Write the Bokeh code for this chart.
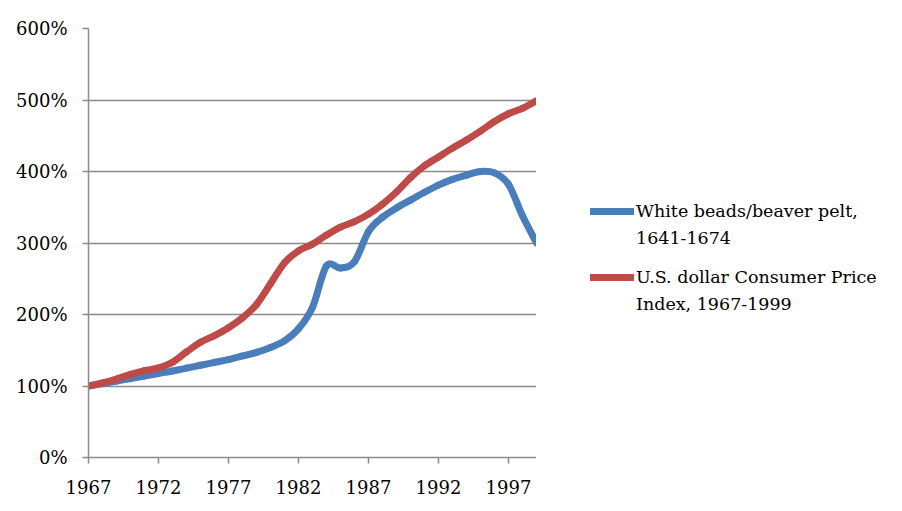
from bokeh.plotting import figure
from bokeh.layouts import row
from bokeh.models import (Range1d, FixedTicker, PrintfTickFormatter, Legend, LegendItem)
from bokeh.embed import file_html
from bokeh.resources import INLINE

years = list(range(1967, 2000))
beads = [100, 103.5, 107, 110.5, 114, 117.5, 121, 125, 129, 133, 137, 142, 147, 154,
         163, 180, 210, 268, 265, 274, 316, 336, 349, 360, 371, 381, 389, 395, 400,
         398, 382, 338, 300]
cpi = [100, 104.2, 109.8, 116.3, 121.3, 125.3, 133.1, 147.7, 161.2, 170.5, 181.5,
       195.4, 214, 243, 272.4, 289.1, 298.4, 311.1, 322.2, 330, 340.4, 354.3, 371.3,
       391.4, 408.0, 420.3, 432.7, 444.0, 456.5, 469.9, 480.8, 488.3, 499.0]
beads_label = ["White beads/beaver pelt,", "1641-1674"]
cpi_label = ["U.S. dollar Consumer Price", "Index, 1967-1999"]
x_ticks = [1967, 1972, 1977, 1982, 1987, 1992, 1997]
y_ticks = [0, 100, 200, 300, 400, 500, 600]

BLUE = "#4A7EBB"
RED = "#BE4B48"
GRID = "#8A8A8A"
FONT = "DejaVu Serif"


def smooth_segments(xs, ys):
    """Catmull-Rom control points for bezier segments between consecutive points."""
    n = len(xs)
    d = dict(x0=[], y0=[], x1=[], y1=[], cx0=[], cy0=[], cx1=[], cy1=[])
    for i in range(n - 1):
        i0 = max(i - 1, 0)
        i3 = min(i + 2, n - 1)
        d["x0"].append(xs[i]); d["y0"].append(ys[i])
        d["x1"].append(xs[i + 1]); d["y1"].append(ys[i + 1])
        d["cx0"].append(xs[i] + (xs[i + 1] - xs[i0]) / 6)
        d["cy0"].append(ys[i] + (ys[i + 1] - ys[i0]) / 6)
        d["cx1"].append(xs[i + 1] - (xs[i3] - xs[i]) / 6)
        d["cy1"].append(ys[i + 1] - (ys[i3] - ys[i]) / 6)
    return d


p = figure(frame_width=448, frame_height=429, output_backend="svg", toolbar_location=None,
           x_range=Range1d(1967, 1999), y_range=Range1d(0, 600),
           min_border_left=88, min_border_right=0, min_border_top=28,
           min_border_bottom=54)
p.outline_line_color = None
p.background_fill_color = "white"
p.border_fill_color = "white"

p.bezier(source=smooth_segments(years, beads), x0="x0", y0="y0", x1="x1", y1="y1",
         cx0="cx0", cy0="cy0", cx1="cx1", cy1="cy1",
         line_color=BLUE, line_width=7, line_cap="round")
p.bezier(source=smooth_segments(years, cpi), x0="x0", y0="y0", x1="x1", y1="y1",
         cx0="cx0", cy0="cy0", cx1="cx1", cy1="cy1",
         line_color=RED, line_width=7, line_cap="round")

for ax in (p.xaxis[0], p.yaxis[0]):
    ax.axis_line_color = GRID
    ax.axis_line_width = 1.5
    ax.major_tick_line_color = GRID
    ax.major_tick_line_width = 1.5
    ax.minor_tick_line_color = None
    ax.major_tick_in = 0
    ax.major_tick_out = 6
    ax.major_label_text_font = FONT
    ax.major_label_text_font_size = "18px"
    ax.major_label_text_color = "black"

p.xaxis.ticker = FixedTicker(ticks=x_ticks)
p.xaxis.formatter = PrintfTickFormatter(format="%d")
p.xaxis.major_label_standoff = 16
p.yaxis.ticker = FixedTicker(ticks=y_ticks)
p.yaxis.formatter = PrintfTickFormatter(format="%d%%")
p.yaxis.major_label_standoff = 15

p.xgrid.grid_line_color = None
p.ygrid.grid_line_color = GRID
p.ygrid.grid_line_width = 1.5
p.ygrid.ticker = FixedTicker(ticks=y_ticks)

# legend panel (separate figure to the right of the plot)
lp = figure(width=366, height=511, output_backend="svg", toolbar_location=None,
            x_range=Range1d(0, 1), y_range=Range1d(0, 1),
            min_border=0, x_axis_location=None, y_axis_location=None)
lp.outline_line_color = None
lp.xgrid.visible = False
lp.ygrid.visible = False
lp.border_fill_color = "white"

nan = float("nan")
lb = lp.line([nan], [nan], line_color=BLUE, line_width=7, line_cap="round")
lr = lp.line([nan], [nan], line_color=RED, line_width=7, line_cap="round")
blank = lp.line([nan], [nan], line_alpha=0)


def make_legend(renderer, lines, loc):
    lg = Legend(items=[LegendItem(label=lines[0], renderers=[renderer]),
                       LegendItem(label=lines[1], renderers=[blank])],
                location=loc)
    lg.label_text_font = FONT
    lg.label_text_font_size = "17.5px"
    lg.label_text_color = "black"
    lg.glyph_width = 44
    lg.glyph_height = 20
    lg.label_height = 20
    lg.label_standoff = 2
    lg.spacing = 7
    lg.padding = 0
    lg.margin = 0
    lg.border_line_color = None
    lg.background_fill_alpha = 0
    return lg


lp.add_layout(make_legend(lb, beads_label, (54, 209)), "center")
lp.add_layout(make_legend(lr, cpi_label, (54, 143)), "center")

layout = row(p, lp, spacing=0)
open("out.html", "w").write(file_html(layout, INLINE))
